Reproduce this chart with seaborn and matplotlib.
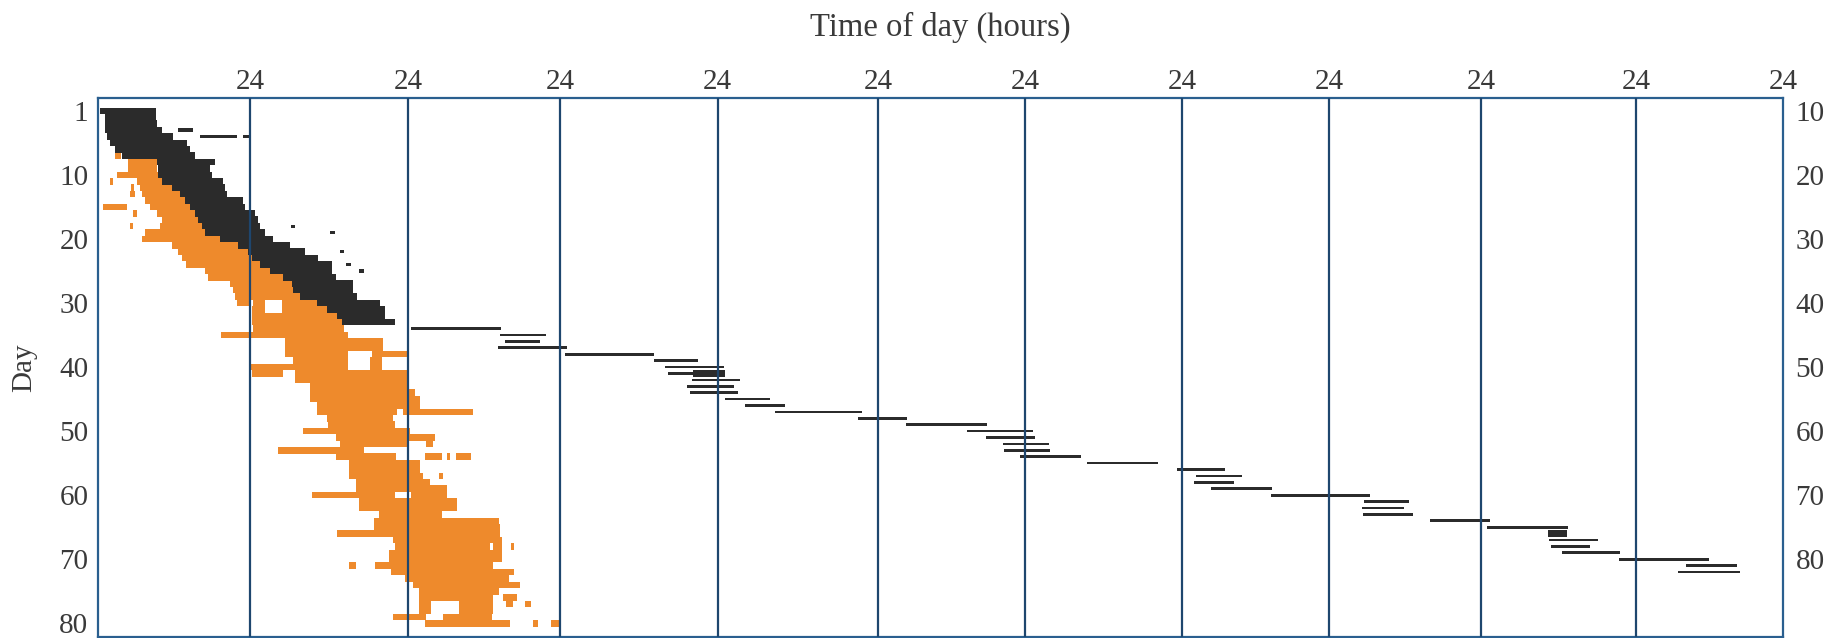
import numpy as np
import pandas as pd
import matplotlib
matplotlib.use("Agg")
import matplotlib.pyplot as plt
import seaborn as sns

# ---------------- data ----------------
# Consolidated sleep episodes, days 0-33 (hours from start of plot)
sleep_day = list(range(0, 34))
sleep_on = [0.3, 1.1, 1.1, 1.1, 1.4, 1.9, 2.7, 3.8, 9.3, 9.5,
            9.5, 10.1, 11.7, 12.9, 13.7, 14.5, 15.3, 15.8, 16.4, 16.9,
            19.3, 22.1, 23.7, 24.3, 25.5, 27.0, 29.0, 30.4, 30.5, 31.6,
            34.2, 35.7, 37.2, 38.0]
sleep_off = [9.2, 9.2, 9.3, 10.1, 11.8, 14.1, 14.5, 15.3, 18.5, 17.7,
             18.0, 19.7, 20.1, 20.4, 22.9, 23.2, 24.8, 25.2, 25.5, 26.3,
             27.5, 30.1, 32.4, 34.3, 36.5, 36.5, 37.0, 39.7, 39.7, 40.3,
             43.8, 44.5, 44.5, 46.0]

# Short naps / isolated sleep bouts
nap_day = [3, 4, 4, 18, 19, 22, 24, 25]
nap_on = [12.6, 16.1, 22.9, 30.2, 36.2, 37.6, 38.6, 40.6]
nap_off = [15.0, 21.9, 24.0, 30.9, 36.9, 38.3, 39.4, 41.3]

# Free-running sleep episodes, days 34-72
free_day = list(range(34, 73))
free_on = [48.5, 62.5, 63.3, 62.2, 72.8, 86.3, 88.0, 88.5, 92.1, 91.4,
           91.8, 97.1, 100.1, 104.6, 117.0, 124.6, 134.5, 137.6, 140.4, 140.6,
           143.2, 153.5, 167.2, 170.3, 170.0, 172.7, 182.5, 197.5, 197.2, 197.4,
           207.9, 216.9, 226.4, 226.6, 226.9, 228.6, 237.4, 248.2, 246.9]
free_off = [62.7, 69.8, 68.8, 73.1, 86.3, 93.0, 97.0, 97.1, 99.4, 98.5,
            99.1, 103.9, 106.1, 117.6, 124.7, 137.8, 145.2, 145.5, 147.7, 147.8,
            152.6, 164.3, 175.0, 177.8, 176.5, 182.7, 198.5, 204.6, 203.9, 205.3,
            217.4, 229.5, 229.3, 234.1, 232.8, 237.5, 251.9, 256.5, 257.0]

# Dense overlapping bouts
dense_day = [41, 66]
dense_on = [92.2, 226.4]
dense_off = [97.1, 229.3]

# Activity phase segments (orange), day / onset / offset in hours
temp_day = [7, 8, 9, 10, 11, 11, 12, 12, 13, 13,
            14, 15, 15, 16, 16, 17, 18, 18, 19, 20,
            21, 22, 23, 24, 25, 26, 27, 28, 29, 30,
            30, 30, 31, 31, 32, 33, 34, 35, 36, 37,
            38, 38, 39, 39, 40, 40, 41, 41, 42, 43,
            44, 45, 46, 47, 47, 48, 49, 50, 51, 52,
            52, 53, 54, 54, 54, 54, 55, 56, 57, 57,
            58, 59, 60, 60, 61, 62, 63, 64, 65, 66,
            67, 68, 68, 68, 69, 70, 71, 71, 72, 73,
            74, 75, 76, 76, 77, 77, 77, 77, 78, 78,
            79, 79, 80, 80, 80]
temp_on = [2.7, 4.7, 4.7, 3.0, 1.9, 6.2, 5.2, 6.6, 5.1, 6.9,
           7.4, 0.8, 8.2, 5.5, 9.3, 10.1, 5.0, 9.8, 7.4, 6.9,
           11.7, 12.6, 13.3, 13.9, 16.9, 17.4, 20.8, 21.3, 21.6, 21.9,
           24.5, 28.9, 24.3, 28.9, 24.3, 24.3, 24.5, 19.4, 29.3, 29.3,
           29.3, 42.5, 30.5, 42.2, 23.8, 42.2, 24.3, 30.8, 30.8, 33.1,
           33.1, 33.1, 34.2, 34.2, 47.2, 35.7, 35.9, 32.1, 37.0, 37.6,
           50.8, 28.3, 37.0, 50.7, 54.1, 55.6, 39.0, 39.0, 39.0, 52.9,
           40.1, 40.1, 33.4, 48.5, 40.5, 40.5, 43.6, 42.9, 42.9, 37.2,
           45.7, 46.0, 61.4, 64.2, 45.1, 45.1, 39.0, 43.0, 45.4, 47.5,
           48.8, 49.7, 49.7, 63.0, 49.7, 56.0, 63.4, 66.5, 49.7, 56.0,
           45.7, 53.6, 50.7, 67.8, 70.6]
temp_off = [3.6, 9.3, 9.3, 9.5, 2.4, 10.1, 5.7, 11.7, 5.8, 12.9,
            13.7, 4.6, 14.5, 6.2, 15.3, 15.8, 5.5, 16.4, 16.9, 19.3,
            22.1, 23.7, 24.3, 25.5, 27.0, 29.0, 30.4, 30.5, 31.6, 23.8,
            26.3, 34.2, 26.3, 35.7, 37.2, 38.0, 38.3, 38.9, 44.2, 44.2,
            38.9, 47.8, 38.9, 44.0, 38.9, 44.0, 29.0, 47.8, 48.1, 48.2,
            49.1, 49.9, 49.9, 46.3, 58.3, 45.7, 46.0, 48.3, 52.2, 47.8,
            51.9, 41.3, 46.1, 53.4, 54.7, 57.9, 49.9, 49.9, 50.4, 53.5,
            51.5, 54.2, 46.0, 54.2, 55.7, 55.7, 53.4, 62.3, 62.5, 62.5,
            62.8, 61.0, 62.8, 64.7, 62.8, 62.8, 40.1, 61.4, 64.7, 63.9,
            65.7, 62.4, 61.5, 65.2, 51.6, 61.5, 64.6, 67.5, 51.6, 61.5,
            50.9, 61.3, 64.1, 68.6, 72.0]

# Axis ticks and labels
hour_ticks = [24, 48, 72, 96, 120, 144, 168, 192, 216, 240, 264]
hour_labels = ["24"] * 11
day_ticks = [0, 10, 20, 30, 40, 50, 60, 70, 80]
day_labels = ["1", "10", "20", "30", "40", "50", "60", "70", "80"]
right_ticks = [0, 10, 20, 30, 40, 50, 60, 70]
right_labels = ["10", "20", "30", "40", "50", "60", "70", "80"]

# ---------------- style ----------------
sns.set_theme(style="white")
plt.rcParams["font.family"] = ["Liberation Serif", "DejaVu Serif"]

ORANGE = "#ee8a2c"
DARK = "#2b2b2b"
FRAME = "#2a5f8f"
GRID = "#1e466e"
TEXT = "#3a3a3a"
FS = 21

# The 24-h columns of the chart are hand ruled and not all the same width;
# a piecewise-linear scale places each day boundary where it is ruled.
HOUR_EDGES = np.array([0, 24, 48, 72, 96, 120, 144, 168, 192, 216, 240, 264])
RULED_EDGES = np.array([0, 23.82, 48.57, 72.38, 97.06, 122.21, 145.24,
                        169.84, 192.87, 216.68, 240.97, 264])


def ruled_forward(h):
    return np.interp(h, HOUR_EDGES, RULED_EDGES, left=None, right=None)


def ruled_inverse(v):
    return np.interp(v, RULED_EDGES, HOUR_EDGES, left=None, right=None)


def segments(day, on, off):
    return pd.DataFrame({"day": day, "on": on, "off": off}).assign(
        dur=lambda d: d["off"] - d["on"])


temp = segments(temp_day, temp_on, temp_off)
sleep = segments(sleep_day, sleep_on, sleep_off)
naps = segments(nap_day, nap_on, nap_off)
free = segments(free_day, free_on, free_off)
dense = segments(dense_day, dense_on, dense_off)

fig = plt.figure(figsize=(18.42, 6.38), dpi=100)
ax = fig.add_axes([0.0532, 0.002, 0.9148, 0.8444])
ax.set_xscale("function", functions=(ruled_forward, ruled_inverse))

ax.barh(temp["day"], temp["dur"], left=temp["on"], height=1.02,
        color=ORANGE, linewidth=0, zorder=2)
ax.barh(sleep["day"], sleep["dur"], left=sleep["on"], height=1.02,
        color=DARK, linewidth=0, zorder=3)
ax.barh(naps["day"], naps["dur"], left=naps["on"], height=0.5,
        color=DARK, linewidth=0, zorder=3)
ax.barh(free["day"], free["dur"], left=free["on"], height=0.42,
        color=DARK, linewidth=0, zorder=3)
ax.barh(dense["day"], dense["dur"], left=dense["on"], height=1.0,
        color=DARK, linewidth=0, zorder=3)

for h in hour_ticks[:-1]:
    ax.axvline(h, color=GRID, lw=1.6, zorder=4)

ax.set_xlim(0, 264)
ax.set_ylim(82.1, -2.0)

ax.xaxis.tick_top()
ax.xaxis.set_label_position("top")
ax.set_xticks(hour_ticks)
ax.set_xticklabels(hour_labels)
ax.xaxis.set_minor_locator(matplotlib.ticker.NullLocator())
ax.set_xlabel("Time of day (hours)", fontsize=23.5, color=TEXT, labelpad=24)

ax.set_yticks(day_ticks)
ax.set_yticklabels(day_labels)
ax.set_ylabel("Day", fontsize=FS, color=TEXT, labelpad=16)

ax.tick_params(axis="both", length=0, labelsize=FS, colors=TEXT)
ax.tick_params(axis="x", pad=2)
ax.tick_params(axis="y", pad=7)

for s in ax.spines.values():
    s.set_visible(True)
    s.set_color(FRAME)
    s.set_linewidth(1.6)

ax2 = ax.twinx()
ax2.set_ylim(ax.get_ylim())
ax2.set_yticks(right_ticks)
ax2.set_yticklabels(right_labels)
ax2.tick_params(axis="y", length=0, labelsize=FS, colors=TEXT, pad=9)
ax2.grid(False)
for s in ax2.spines.values():
    s.set_visible(False)
ax.grid(False)

fig.savefig("out.png", dpi=100, facecolor="white")
